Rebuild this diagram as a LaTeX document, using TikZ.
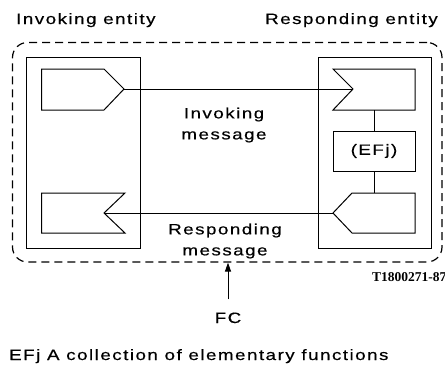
\documentclass[tikz,border=0pt]{standalone}
\usepackage{fontspec}
\setmainfont{Liberation Sans}[FakeStretch=1.25,LetterSpace=10,FakeBold=0.4]
\newfontfamily\codefont{Liberation Serif}
\usetikzlibrary{arrows.meta}
\begin{document}
\begin{tikzpicture}[x=1pt,y=-1pt,
  lbl/.style={font=\fontsize{15}{21}\selectfont,inner sep=0pt},
  shapeline/.style={line width=1pt,line join=miter},
  conn/.style={line width=1pt},
  entitybox/.style={draw,line width=1pt,minimum width=#1,minimum height=191pt,inner sep=0pt},
  fcbox/.style={draw,dashed,dash pattern=on 8pt off 5pt,line width=1.2pt,rounded corners=15pt,minimum width=429.5pt,minimum height=219.5pt,inner sep=0pt},
  efbox/.style={draw,line width=1pt,minimum width=82pt,minimum height=40pt,inner sep=0pt,font=\fontsize{15}{21}\selectfont}]
\useasboundingbox (0,0) rectangle (445,376);
% functional component (dashed)
\node[fcbox] (fc) at (227.25,152.25) {};
% entity boxes
\node[entitybox=113.3pt] (inv) at (83.35,152.5) {};
\node[entitybox=113.4pt] (resp) at (375,152.5) {};
% invoking entity: send shape (top) and receive shape (bottom)
\coordinate (sendA) at (124,89);
\draw[shapeline] (41.7,69) -- (104,69) -- (sendA) -- (104,110) -- (41.7,110) -- cycle;
\coordinate (recvA) at (104,213);
\draw[shapeline] (41.7,193) -- (125,193) -- (recvA) -- (125,233) -- (41.7,233) -- cycle;
% responding entity: receive shape (top), EFj, send shape (bottom)
\coordinate (recvB) at (353,89);
\draw[shapeline] (333,69) -- (415,69) -- (415,110) -- (333,110) -- (recvB) -- cycle;
\coordinate (recvBbot) at (374,110);
\node[efbox] (ef) at (374,151) {(EFj)};
\coordinate (sendB) at (333,213);
\coordinate (sendBtop) at (374,193);
\draw[shapeline] (sendB) -- (352,193) -- (415,193) -- (415,233) -- (352,233) -- cycle;
% connectors
\draw[conn] (sendA) -- (recvB);
\draw[conn] (sendB) -- (recvA);
\draw[conn] (recvBbot) -- (ef.north);
\draw[conn] (ef.south) -- (sendBtop);
% labels
\node[lbl,anchor=base west] (t1) at (16,24) {Invoking entity};
\node[lbl,anchor=base east] (t2) at (438,24) {Responding entity};
\node[lbl,align=center] (m1) at (224,125) {Invoking\\message};
\node[lbl,align=center] (m2) at (225,241) {Responding\\message};
\node[lbl,anchor=base] (fcl) at (228,323) {FC};
\draw[line width=1pt,-{Triangle[length=9pt,width=6pt]}] ([yshift=13pt]fcl.north) -- (fcl.north |- fc.south);
\node[inner sep=0pt,anchor=base west,font=\codefont\bfseries\fontsize{13.5}{15}\selectfont] (code) at (372,281) {T1800271-87};
\node[lbl,anchor=base west] (note) at (9,360) {EFj A collection of elementary functions};
\end{tikzpicture}
\end{document}
